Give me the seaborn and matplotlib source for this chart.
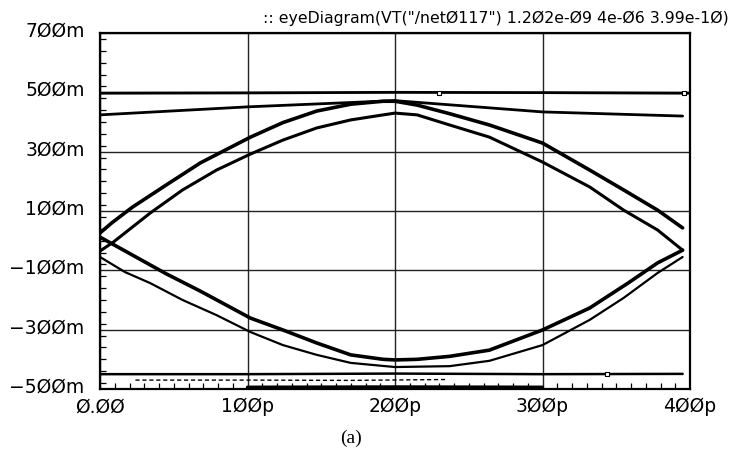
import matplotlib
matplotlib.use("Agg")
import matplotlib.pyplot as plt
import matplotlib.transforms as mtransforms
from matplotlib.ticker import MultipleLocator, FuncFormatter
import seaborn as sns
import pandas as pd

# ---- eye-diagram traces (time in ps, voltage in V) ----
t_upper_outer = [0, 8, 22, 45, 68, 102, 124, 147, 170, 192, 200, 215, 237, 264, 300, 332, 355, 378, 395]
v_upper_outer = [0.026, 0.06, 0.113, 0.188, 0.262, 0.349, 0.398, 0.437, 0.46, 0.47, 0.47, 0.457,
                 0.428, 0.39, 0.329, 0.238, 0.171, 0.103, 0.043]

t_upper_inner = [0, 9, 34, 56, 79, 102, 124, 147, 170, 192, 200, 215, 237, 264, 300, 332, 355, 378, 395]
v_upper_inner = [-0.035, -0.005, 0.093, 0.171, 0.238, 0.292, 0.339, 0.38, 0.407, 0.424, 0.43, 0.424,
                 0.39, 0.349, 0.265, 0.181, 0.103, 0.036, -0.032]

t_lower_a = [0, 16, 45, 68, 102, 124, 147, 170, 192, 200, 215, 237, 264, 300, 332, 358, 378, 395]
v_lower_a = [0.012, -0.032, -0.112, -0.17, -0.261, -0.301, -0.345, -0.385, -0.40, -0.402, -0.40,
             -0.39, -0.369, -0.301, -0.227, -0.143, -0.075, -0.032]

t_lower_b = [0, 17, 34, 56, 79, 102, 124, 147, 170, 200, 237, 264, 300, 332, 355, 378, 395]
v_lower_b = [-0.055, -0.106, -0.143, -0.2, -0.251, -0.308, -0.352, -0.385, -0.412, -0.426, -0.423,
             -0.405, -0.352, -0.267, -0.193, -0.109, -0.055]

t_high_flat = [0, 100, 200, 300, 400]
v_high_flat = [0.497, 0.498, 0.5, 0.499, 0.497]

t_high_slope = [0, 100, 200, 300, 395]
v_high_slope = [0.424, 0.451, 0.472, 0.434, 0.420]

t_low_flat = [0, 100, 200, 300, 395]
v_low_flat = [-0.45, -0.45, -0.448, -0.45, -0.449]

t_low_dash = [24, 100, 170, 235]
v_low_dash = [-0.47, -0.47, -0.471, -0.468]

t_low_floor = [100, 200, 300]
v_low_floor = [-0.494, -0.493, -0.494]

t_marks = [230, 396, 344]
v_marks = [0.497, 0.497, -0.451]

y_ticks = [-0.5, -0.3, -0.1, 0.1, 0.3, 0.5, 0.7]
x_ticks = [0, 100, 200, 300, 400]

title_text = ':: eyeDiagram(VT("/net0117") 1.202e-09 4e-06 3.99e-10)'
caption_text = "(a)"

sns.set_theme(style="white")
plt.rcParams["font.family"] = ["DejaVu Sans"]

fig = plt.figure(figsize=(7.4, 4.58), dpi=100)
ax = fig.add_axes([100 / 740, 69 / 458, 590 / 740, 356 / 458])

traces = [
    (t_high_flat, v_high_flat, 2.0, "-"),
    (t_high_slope, v_high_slope, 2.0, "-"),
    (t_upper_outer, v_upper_outer, 2.6, "-"),
    (t_upper_inner, v_upper_inner, 2.2, "-"),
    (t_lower_a, v_lower_a, 2.6, "-"),
    (t_lower_b, v_lower_b, 1.6, "-"),
    (t_low_flat, v_low_flat, 1.8, "-"),
    (t_low_dash, v_low_dash, 1.0, (0, (3, 2))),
    (t_low_floor, v_low_floor, 2.4, "-"),
]
for t, v, lw, ls in traces:
    df = pd.DataFrame({"time": t, "volt": v})
    sns.lineplot(data=df, x="time", y="volt", color="black", linewidth=lw,
                 linestyle=ls, estimator=None, sort=False, ax=ax)

sns.scatterplot(x=t_marks, y=v_marks, marker="s", s=12, facecolor="white",
                edgecolor="black", linewidth=0.8, ax=ax, zorder=5)

ax.set_xlim(0, 400)
ax.set_ylim(-0.5, 0.7)
ax.set_xticks(x_ticks)
ax.set_yticks(y_ticks)
ax.xaxis.set_minor_locator(MultipleLocator(10))
ax.yaxis.set_minor_locator(MultipleLocator(0.04))


def slashed(s):
    return s.replace("0", "\u00d8")


ax.xaxis.set_major_formatter(FuncFormatter(
    lambda v, p: slashed("0.00" if v == 0 else f"{int(round(v))}p")))
ax.yaxis.set_major_formatter(FuncFormatter(
    lambda v, p: slashed(f"{int(round(v * 1000))}m").replace("-", "\u2212")))

ax.grid(True, which="major", color="#222222", linewidth=1.0)
ax.tick_params(axis="both", which="major", length=0, labelsize=13.5, colors="black")
ax.tick_params(axis="x", which="major", pad=6)
ax.tick_params(axis="y", which="major", pad=11)
ax.tick_params(axis="both", which="minor", direction="in", length=4, width=0.9,
               color="black", bottom=True, left=True, top=False, right=False)
for sp in ax.spines.values():
    sp.set_visible(True)
    sp.set_color("black")
    sp.set_linewidth(1.6)
ax.set_xlabel("")
ax.set_ylabel("")

shift = mtransforms.ScaledTranslation(0, 4 / 100, fig.dpi_scale_trans)
for lab in ax.get_yticklabels():
    lab.set_transform(lab.get_transform() + shift)

fig.text(263 / 740, 1 - 18 / 458, slashed(title_text), ha="left", va="center",
         fontsize=11.3, color="black")
fig.text(351 / 740, 1 - 438 / 458, caption_text, ha="center", va="center",
         fontsize=14, family="Liberation Serif", color="black")

fig.savefig("out.png", dpi=100, facecolor="white")
